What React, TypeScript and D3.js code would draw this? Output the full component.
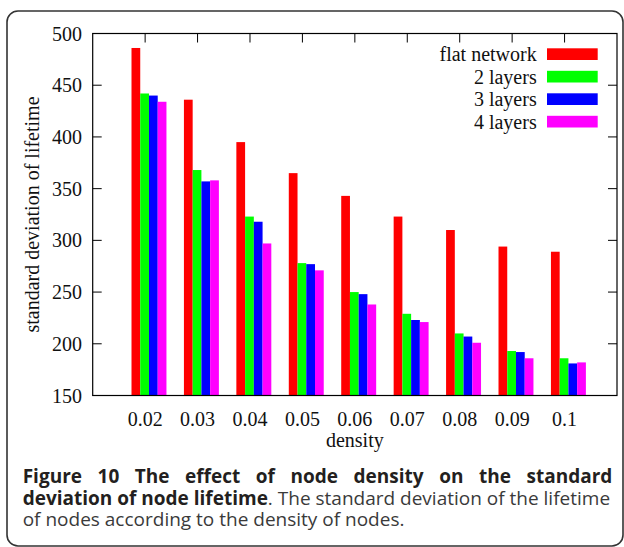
import React, { useMemo } from "react";
import * as d3 from "d3";

const categories = ["0.02", "0.03", "0.04", "0.05", "0.06", "0.07", "0.08", "0.09", "0.1"];
const seriesNames = ["flat network", "2 layers", "3 layers", "4 layers"];
const seriesColors = ["#ff0000", "#00ff00", "#0000ff", "#ff00ff"];
const flatNetwork = [486, 436, 395, 365, 343, 323, 310, 294, 289];
const twoLayers = [442, 368, 323, 278, 250, 229, 210, 193, 186];
const threeLayers = [440, 357, 318, 277, 248, 223, 207, 192, 181];
const fourLayers = [434, 358, 297, 271, 238, 221, 201, 186, 182];
const yTicks = [150, 200, 250, 300, 350, 400, 450, 500];
const captionBold1 = ["Figure", "10", "The", "effect", "of", "node", "density", "on", "the", "standard"];
const captionBold2 = "deviation of node lifetime";
const captionRest2 = ". The standard deviation of the lifetime";
const captionLine3 = "of nodes according to the density of nodes.";

const W = 624;
const H = 547;
const margin = { top: 33.5, right: 7, bottom: 151.5, left: 92.7 };
const font = "'Liberation Serif', 'Times New Roman', serif";
const capFont = "'Open Sans', 'Noto Sans', sans-serif";
const capSize = 19;

const allSeries = [flatNetwork, twoLayers, threeLayers, fourLayers];

export default function App() {
  const x = d3.scaleLinear().domain([0, 10]).range([margin.left, W - margin.right]);
  const y = d3.scaleLinear().domain([150, 500]).range([H - margin.bottom, margin.top]);
  const unit = x(1) - x(0);
  const barW = unit / 6;
  const x0 = margin.left;
  const x1 = W - margin.right;
  const y0 = H - margin.bottom;
  const y1 = margin.top;

  // justify first caption line word by word
  const line1 = useMemo(() => {
    const ctx = document.createElement("canvas").getContext("2d")!;
    ctx.font = `bold ${capSize}px ${capFont}`;
    const widths = captionBold1.map(w => ctx.measureText(w).width);
    const left = 22.7;
    const right = 612.3;
    const total = d3.sum(widths);
    const gap = (right - left - total) / (captionBold1.length - 1);
    let pos = left;
    return captionBold1.map((w, i) => {
      const p = pos;
      pos += widths[i] + gap;
      return { w, x: p };
    });
  }, []);

  return (
    <div style={{ position: "absolute", left: 0, top: 0 }}>
      <svg width={W} height={H} style={{ display: "block" }}>
        <rect x={0} y={0} width={W} height={H} fill="#fff" />
        <rect x={7} y={11} width={616} height={535} rx={11} ry={11} fill="none" stroke="#333" strokeWidth={1.6} />

        {/* ticks (drawn under the bars) */}
        <g stroke="#000" strokeWidth={1}>
          {yTicks.map(t => (
            <g key={t}>
              <line x1={x0} x2={x0 + 9} y1={y(t)} y2={y(t)} />
              <line x1={x1} x2={x1 - 9} y1={y(t)} y2={y(t)} />
            </g>
          ))}
          {categories.map((c, i) => (
            <g key={c}>
              <line x1={x(i + 1)} x2={x(i + 1)} y1={y0} y2={y0 - 9} />
              <line x1={x(i + 1)} x2={x(i + 1)} y1={y1} y2={y1 + 9} />
            </g>
          ))}
        </g>

        {/* bars */}
        {allSeries.map((vals, s) => (
          <g key={s} fill={seriesColors[s]}>
            {vals.map((v, i) => (
              <rect key={i} x={x(i + 1) - 0.26 * unit + s * barW} y={y(v)} width={barW} height={y0 - y(v)} />
            ))}
          </g>
        ))}

        <rect x={x0} y={y1} width={x1 - x0} height={y0 - y1} fill="none" stroke="#000" strokeWidth={1.2} />

        <g fontFamily={font} fontSize={20} fill="#111">
          {yTicks.map(t => (
            <text key={t} x={82} y={y(t)} dy="0.35em" textAnchor="end">{t}</text>
          ))}
          {categories.map((c, i) => (
            <text key={c} x={x(i + 1)} y={425.7} textAnchor="middle">{c}</text>
          ))}
          <text x={(x0 + x1) / 2} y={447} textAnchor="middle">density</text>
          <text transform={`translate(38.5, ${(y0 + y1) / 2}) rotate(-90)`} textAnchor="middle">standard deviation of lifetime</text>

          {seriesNames.map((n, s) => (
            <g key={n}>
              <text x={536.7} y={61 + s * 22.5} textAnchor="end">{n}</text>
              <rect x={547} y={48.3 + s * 22.5} width={50.7} height={11.7} fill={seriesColors[s]} />
            </g>
          ))}
        </g>

        <g fontFamily={capFont} fontSize={capSize}>
          {line1.map(d => (
            <text key={d.w} x={d.x} y={483} fontWeight="bold" fill="#231f20">{d.w}</text>
          ))}
          <text x={22.7} y={504.5} fill="#3a3a3a">
            <tspan fontWeight="bold" fill="#231f20">{captionBold2}</tspan>
            <tspan>{captionRest2}</tspan>
          </text>
          <text x={22.7} y={526} fill="#3a3a3a">{captionLine3}</text>
        </g>
      </svg>
    </div>
  );
}
